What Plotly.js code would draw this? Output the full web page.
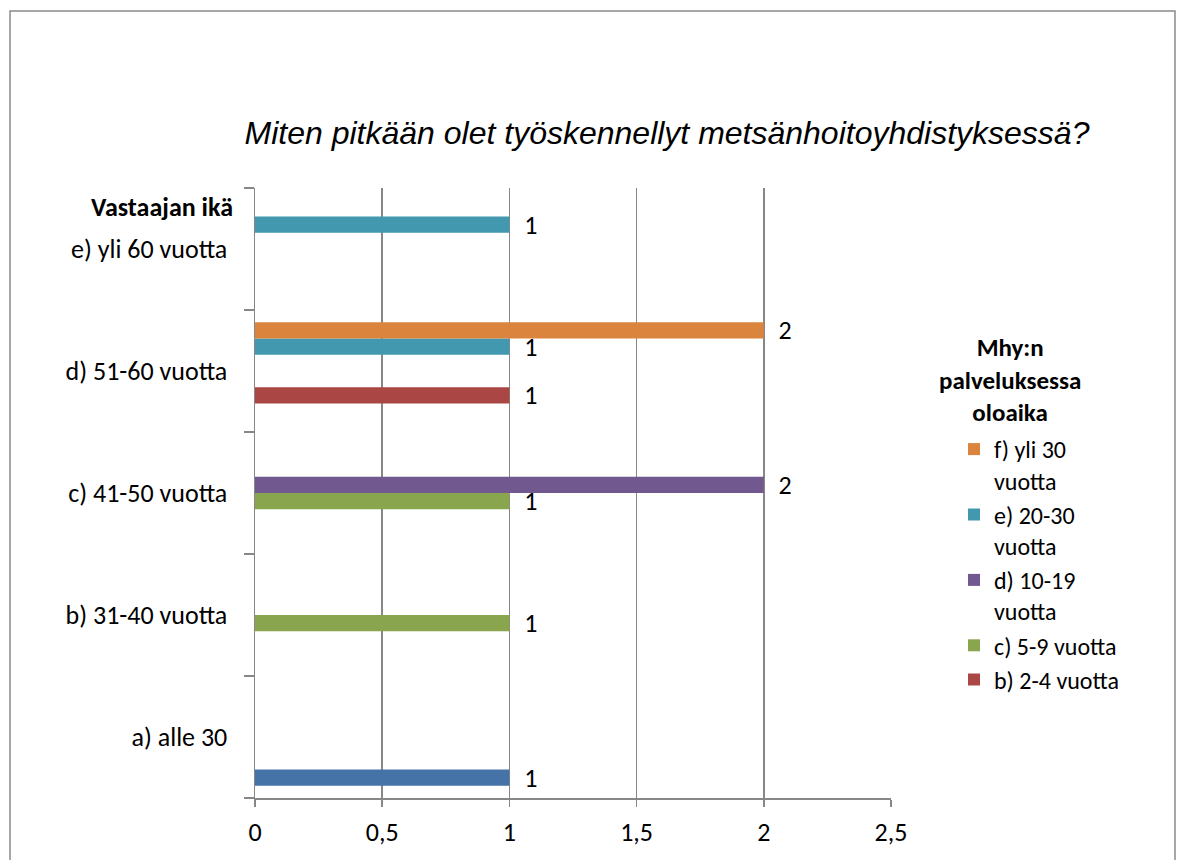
<!DOCTYPE html>
<html>
<head>
<meta charset="utf-8">
<script src="https://cdn.plot.ly/plotly-3.0.1.min.js"></script>
<style>
  html, body { margin: 0; padding: 0; background: #ffffff; }
  #chart { width: 1181px; height: 860px; }
</style>
</head>
<body>
<div id="chart"></div>
<script>
// Categories (respondent age), bottom to top
const ageCategories = ["a) alle 30", "b) 31-40 vuotta", "c) 41-50 vuotta", "d) 51-60 vuotta", "e) yli 60 vuotta"];

// Series names (length of service)
const seriesNames = [
  "a) alle 2 vuotta",
  "b) 2-4 vuotta",
  "c) 5-9 vuotta",
  "d) 10-19<br>vuotta",
  "e) 20-30<br>vuotta",
  "f) yli 30<br>vuotta"
];

// Values per series, aligned with ageCategories (null = no bar)
const seriesA = [1, null, null, null, null];
const seriesB = [null, null, null, 1, null];
const seriesC = [null, 1, 1, null, null];
const seriesD = [null, null, 2, null, null];
const seriesE = [null, null, null, 1, 1];
const seriesF = [null, null, null, 2, null];

const seriesValues = [seriesA, seriesB, seriesC, seriesD, seriesE, seriesF];
const seriesColors = ["#4572A7", "#AA4643", "#89A54E", "#71588F", "#4198AF", "#DB843D"];
const seriesInLegend = [false, true, true, true, true, true];

const xTickVals = [0, 0.5, 1, 1.5, 2, 2.5];
const xTickText = ["0", "0,5", "1", "1,5", "2", "2,5"];

const labelFont = "Carlito, Lato, 'Liberation Sans', sans-serif";

const traces = seriesValues.map((vals, i) => ({
  type: "bar",
  orientation: "h",
  name: seriesNames[i],
  y: ageCategories,
  x: vals,
  marker: { color: seriesColors[i], line: { width: 0 } },
  text: vals.map(v => v === null ? "" : String(v)),
  texttemplate: "\u00a0\u00a0%{text}",
  textposition: "outside",
  constraintext: "none",
  cliponaxis: false,
  textfont: { family: labelFont, size: 26, color: "#000000" },
  showlegend: seriesInLegend[i],
  hoverinfo: "x+y+name"
}));

// plot area in px: x 255..891, y 188..798
const L = 255, R = 891, T = 188, B = 798, W = 1181, H = 860;
const px2x = p => (p - L) / (R - L);
const px2y = p => (B - p) / (B - T);

const layout = {
  width: W,
  height: H,
  margin: { l: L, r: W - R, t: T, b: H - B, pad: 0 },
  paper_bgcolor: "#ffffff",
  plot_bgcolor: "#ffffff",
  barmode: "group",
  bargap: 0.2,
  bargroupgap: 0,
  title: {
    text: "Miten pitkään olet työskennellyt metsänhoitoyhdistyksessä?",
    font: { family: "'Liberation Sans', Arial, sans-serif", size: 32, style: "italic", color: "#000000" },
    xref: "container", yref: "container",
    x: 667 / W, xanchor: "center",
    y: 1 - 133 / H, yanchor: "middle"
  },
  xaxis: {
    range: [0, 2.5],
    tickvals: xTickVals,
    ticktext: xTickText,
    showgrid: true,
    gridcolor: "#878787",
    gridwidth: 1.5,
    showline: true,
    linecolor: "#878787",
    linewidth: 1.5,
    mirror: false,
    ticks: "outside",
    ticklen: 7,
    tickwidth: 1.5,
    tickcolor: "#878787",
    ticklabelstandoff: 3,
    zeroline: false,
    tickfont: { family: labelFont, size: 26, color: "#000000" },
    fixedrange: true
  },
  yaxis: {
    type: "category",
    categoryorder: "array",
    categoryarray: ageCategories,
    showgrid: false,
    showline: true,
    linecolor: "#878787",
    linewidth: 1.5,
    ticks: "outside",
    tickson: "boundaries",
    ticklen: 10,
    tickwidth: 1.5,
    tickcolor: "#878787",
    ticklabelstandoff: 21,
    zeroline: false,
    tickfont: { family: labelFont, size: 26, color: "#000000" },
    fixedrange: true
  },
  legend: {
    traceorder: "reversed",
    x: px2x(954), xanchor: "left",
    y: px2y(427), yanchor: "top",
    font: { family: labelFont, size: 24, color: "#000000" },
    valign: "top",
    tracegroupgap: 0,
    bgcolor: "rgba(0,0,0,0)",
    borderwidth: 0
  },
  annotations: [
    {
      text: "<b>Vastaajan ikä</b>",
      xref: "paper", yref: "paper",
      x: px2x(235), xanchor: "right",
      y: px2y(207), yanchor: "middle",
      showarrow: false,
      font: { family: labelFont, size: 26, color: "#000000" }
    },
    {
      text: "<b>Mhy:n<br>palveluksessa<br>oloaika</b>",
      xref: "paper", yref: "paper",
      x: px2x(1010), xanchor: "center",
      y: px2y(380), yanchor: "middle",
      align: "center",
      showarrow: false,
      font: { family: labelFont, size: 25, color: "#000000" }
    }
  ],
  shapes: [
    {
      type: "rect",
      xref: "paper", yref: "paper",
      x0: px2x(10), x1: px2x(1175),
      y0: px2y(11), y1: px2y(880),
      line: { color: "#8a8a8a", width: 1.5 },
      fillcolor: "rgba(0,0,0,0)",
      layer: "below"
    }
  ],
  showlegend: true
};

Plotly.newPlot("chart", traces, layout, { displayModeBar: false, staticPlot: true });
</script>
</body>
</html>
